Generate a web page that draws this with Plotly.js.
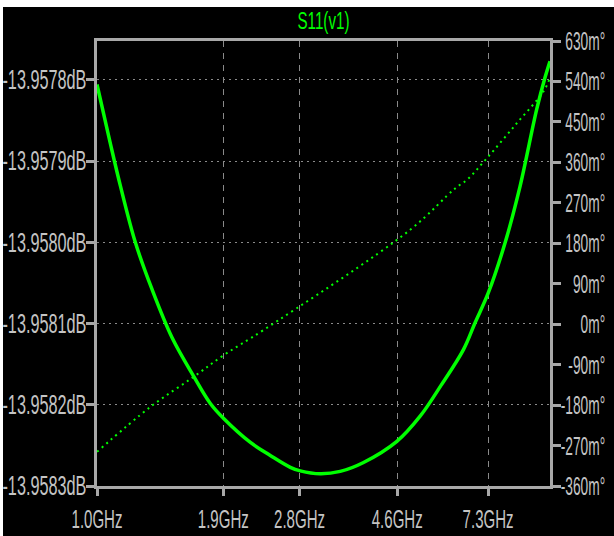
<!DOCTYPE html>
<html>
<head>
<meta charset="utf-8">
<script src="https://cdn.plot.ly/plotly-3.0.1.min.js"></script>
<style>
  html, body { margin: 0; padding: 0; background: #ffffff; width: 614px; height: 536px; overflow: hidden; }
  #chart { position: absolute; left: 3px; top: 7px; width: 611px; height: 529px; }
</style>
</head>
<body>
<div id="chart"></div>
<script>
// Magnitude trace (dB) vs frequency (GHz)
const magFreqGHz = [1.0, 1.071, 1.127, 1.216, 1.323, 1.465, 1.635, 1.779, 1.904, 2.181, 2.413, 2.671, 2.810, 3.111, 3.443, 3.876, 4.592, 5.168, 5.733, 6.441, 6.833, 7.310, 7.959, 8.588, 9.348, 9.750, 10.0];
const magDB = [-13.9578055, -13.957879, -13.957931, -13.9580005, -13.958058, -13.9581175, -13.958165, -13.9581984, -13.9582169, -13.9582464, -13.9582624, -13.958277, -13.9582814, -13.958285, -13.958282, -13.958271, -13.958245, -13.958214, -13.958177, -13.958132, -13.958099, -13.958062, -13.9580005, -13.957931, -13.957836, -13.957797, -13.957777];

// Phase trace (milli-degrees) vs frequency (GHz)
const phaseFreqGHz = [1.0, 1.312, 1.635, 1.904, 2.332, 4.913, 6.173, 6.553, 7.252, 8.445, 9.665, 10.0];
const phaseMdeg = [-284, -184, -117, -69, -13, 210, 302, 321, 369, 447, 517, 548];

// Axis ticks
const xTickVals = [1.0, 1.9, 2.8, 4.6, 7.3];
const xTickText = ["1.0GHz", "1.9GHz", "2.8GHz", "4.6GHz", "7.3GHz"];
const dbTickVals = [-13.9578, -13.9579, -13.9580, -13.9581, -13.9582, -13.9583];
const dbTickText = ["-13.9578dB", "-13.9579dB", "-13.9580dB", "-13.9581dB", "-13.9582dB", "-13.9583dB"];
const phTickVals = [630, 540, 450, 360, 270, 180, 90, 0, -90, -180, -270, -360];
const phTickText = ["630m°", "540m°", "450m°", "360m°", "270m°", "180m°", "90m°", "0m°", "-90m°", "-180m°", "-270m°", "-360m°"];

const titleText = "S11(v1)";

const FONT = '"Liberation Sans", Arial, sans-serif';
const AXIS = '#a8a8a8';
const TXT = '#c4c4c4';
const GRID = '#8a8a8a';
const GREEN = '#00ff00';

const traces = [
  {
    x: magFreqGHz, y: magDB, type: 'scatter', mode: 'lines',
    line: { color: GREEN, width: 3.5, shape: 'spline', smoothing: 1 },
    xaxis: 'x', yaxis: 'y', hoverinfo: 'skip'
  },
  {
    x: phaseFreqGHz, y: phaseMdeg, type: 'scatter', mode: 'lines',
    line: { color: GREEN, width: 2, dash: '2px,4px', shape: 'spline' },
    xaxis: 'x', yaxis: 'y2', hoverinfo: 'skip'
  }
];

const annotations = phTickVals.map((v, i) => ({
  xref: 'paper', yref: 'y2', x: 1, y: v, xshift: 56,
  xanchor: 'right', yanchor: 'middle', showarrow: false, borderpad: 0,
  text: phTickText[i], font: { family: FONT, size: 18, color: TXT }
}));

const layout = {
  width: 611, height: 529,
  margin: { l: 94, r: 64, t: 34, b: 50, pad: 0 },
  paper_bgcolor: '#000000', plot_bgcolor: '#000000',
  showlegend: false,
  title: {
    text: titleText, x: 0.5, xref: 'paper', xanchor: 'center',
    y: 1 - 14 / 529, yref: 'container', yanchor: 'middle',
    font: { family: FONT, size: 18, color: GREEN }
  },
  xaxis: {
    type: 'log', range: [0, 1],
    tickmode: 'array', tickvals: xTickVals, ticktext: xTickText,
    showline: true, linecolor: AXIS, linewidth: 3, mirror: true,
    ticks: 'outside', ticklen: 7, tickwidth: 3, tickcolor: AXIS,
    showgrid: true, gridcolor: GRID, gridwidth: 1, griddash: '6px,6px',
    zeroline: false, ticklabelstandoff: 8,
    tickfont: { family: FONT, size: 18, color: TXT }
  },
  yaxis: {
    range: [-13.9583, -13.957752],
    tickmode: 'array', tickvals: dbTickVals, ticktext: dbTickText,
    showline: true, linecolor: AXIS, linewidth: 3,
    ticks: 'outside', ticklen: 8, tickwidth: 3, tickcolor: AXIS,
    showgrid: true, gridcolor: GRID, gridwidth: 1, griddash: '2px,4px',
    zeroline: false,
    tickfont: { family: FONT, size: 18, color: TXT }
  },
  yaxis2: {
    overlaying: 'y', side: 'right', range: [-360, 630],
    tickmode: 'array', tickvals: phTickVals, ticktext: phTickText,
    showticklabels: false,
    showline: true, linecolor: AXIS, linewidth: 3,
    ticks: 'outside', ticklen: 8, tickwidth: 3, tickcolor: AXIS,
    showgrid: false, zeroline: false
  },
  annotations: annotations
};

// Condensed, tall look of the original font: scale text elements in place.
function squeeze(selector, refIndex, targetWidth, sy, anchorFrac, dx) {
  const els = Array.from(document.querySelectorAll(selector));
  if (!els.length) return;
  const ref = els[Math.min(refIndex, els.length - 1)];
  const rb = ref.getBBox();
  if (!rb.width) return;
  const sx = targetWidth / rb.width;
  els.forEach(t => {
    const b = t.getBBox();
    const ax = b.x + b.width * anchorFrac;
    const cy = b.y + b.height / 2;
    const tr = t.getAttribute('transform') || '';
    t.setAttribute('transform',
      tr + ' translate(' + (ax + dx) + ',' + cy + ') scale(' + sx + ',' + sy + ') translate(' + (-ax) + ',' + (-cy) + ')');
  });
}

Plotly.newPlot('chart', traces, layout, { staticPlot: true, displayModeBar: false }).then(() => {
  squeeze('g.ytick text', 0, 84, 1.5, 1, 4);
  squeeze('g.xtick text', 1, 51, 1.45, 0.5, 0);
  squeeze('text.annotation-text', 0, 40, 1.45, 1, 0);
  squeeze('text.gtitle', 0, 52, 1.3, 0.5, 0);
});
</script>
</body>
</html>
